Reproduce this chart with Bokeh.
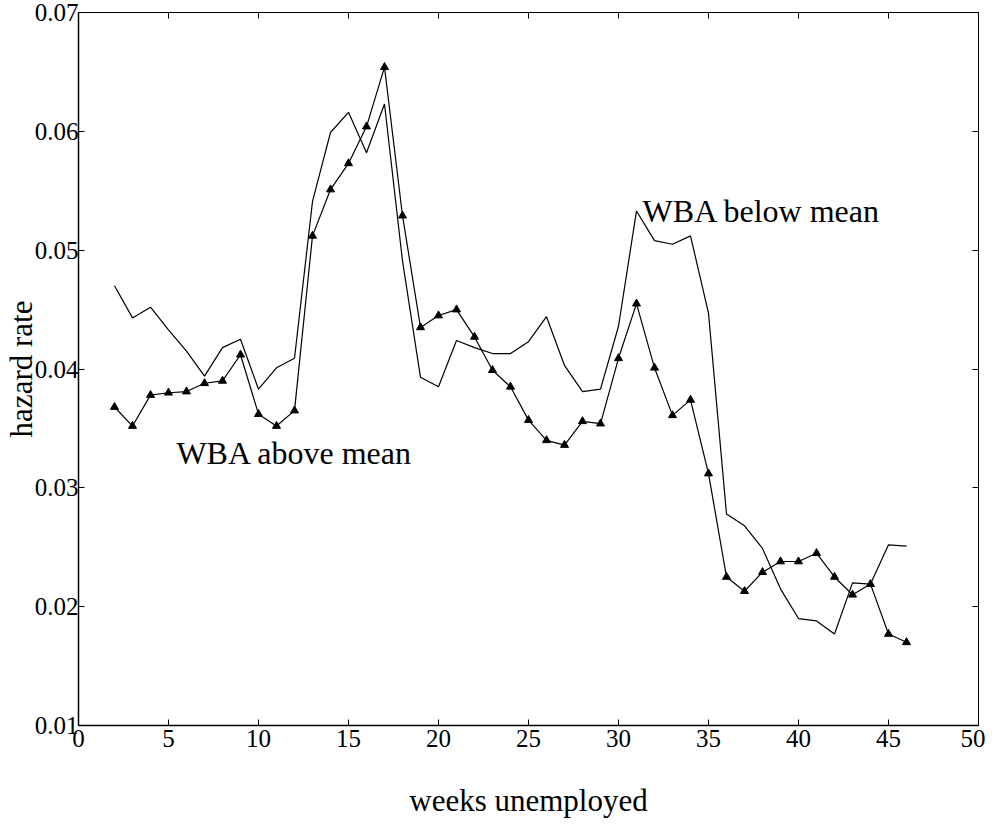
from bokeh.plotting import figure
from bokeh.models import LinearAxis, FixedTicker, NumeralTickFormatter, Label, Range1d
from bokeh.embed import file_html
from bokeh.resources import INLINE

weeks = list(range(2, 47))
above_mean = [0.0368, 0.0352, 0.0378, 0.0380, 0.0381, 0.0388, 0.0390, 0.0412, 0.0362,
              0.0352, 0.0365, 0.0512, 0.0551, 0.0573, 0.0604, 0.0654, 0.0529, 0.0435,
              0.0445, 0.0450, 0.0427, 0.0399, 0.0385, 0.0357, 0.0340, 0.0336, 0.0356,
              0.0354, 0.0409, 0.0455, 0.0401, 0.0361, 0.0374, 0.0312, 0.0225, 0.0213,
              0.0229, 0.0238, 0.0238, 0.0245, 0.0225, 0.0210, 0.0219, 0.0177, 0.0170]
below_mean = [0.0470, 0.0443, 0.0452, 0.0433, 0.0415, 0.0394, 0.0418, 0.0425, 0.0383,
              0.0401, 0.0409, 0.0541, 0.0599, 0.0616, 0.0582, 0.0623, 0.0491, 0.0393,
              0.0385, 0.0424, 0.0418, 0.0413, 0.0413, 0.0423, 0.0444, 0.0403, 0.0381,
              0.0383, 0.0436, 0.0533, 0.0508, 0.0505, 0.0512, 0.0447, 0.0278, 0.0268,
              0.0249, 0.0215, 0.0190, 0.0188, 0.0177, 0.0220, 0.0219, 0.0252, 0.0251]
x_ticks = [0, 5, 10, 15, 20, 25, 30, 35, 40, 45, 50]
y_ticks = [0.01, 0.02, 0.03, 0.04, 0.05, 0.06, 0.07]
label_below = ("WBA below mean", 31.34, 0.0533)
label_above = ("WBA above mean", 5.44, 0.0329)

FONT = "Liberation Serif"

p = figure(width=985, height=820, output_backend="svg", toolbar_location=None,
           x_range=Range1d(0, 50), y_range=Range1d(0.01, 0.07),
           min_border_left=10, min_border_right=7, min_border_top=12, min_border_bottom=10)
p.background_fill_color = "white"
p.border_fill_color = "white"
p.outline_line_color = "black"
p.outline_line_width = 1
p.grid.visible = False

p.xaxis.ticker = FixedTicker(ticks=x_ticks)
p.yaxis.ticker = FixedTicker(ticks=y_ticks)
p.yaxis.formatter = NumeralTickFormatter(format="0.00")
for ax in (p.xaxis[0], p.yaxis[0]):
    ax.major_tick_in = 6
    ax.major_tick_out = 0
    ax.minor_tick_line_color = None
    ax.axis_line_width = 1.5
    ax.axis_line_color = "black"
    ax.major_tick_line_color = "black"
    ax.major_label_text_font = FONT
    ax.major_label_text_font_size = "25px"
    ax.major_label_text_color = "black"
    ax.axis_label_text_font = FONT
    ax.axis_label_text_font_size = "31px"
    ax.axis_label_text_font_style = "normal"
    ax.axis_label_text_color = "black"

p.xaxis.axis_label = "weeks unemployed"
p.xaxis.major_label_standoff = 4
p.xaxis.axis_label_standoff = 33
p.yaxis.axis_label = "hazard rate"
p.yaxis.major_label_standoff = 0
p.yaxis.axis_label_standoff = -7

top = LinearAxis(ticker=FixedTicker(ticks=x_ticks), major_tick_in=6, major_tick_out=0,
                 minor_tick_line_color=None, major_label_text_font_size="0px",
                 major_label_text_color=None,
                 major_label_standoff=0, axis_line_color="black")
right = LinearAxis(ticker=FixedTicker(ticks=y_ticks), major_tick_in=6, major_tick_out=0,
                   minor_tick_line_color=None, major_label_text_font_size="0px",
                   major_label_text_color=None,
                   major_label_standoff=0, axis_line_color="black")
p.add_layout(top, "above")
p.add_layout(right, "right")

p.line(weeks, below_mean, line_color="black", line_width=1.2)
p.line(weeks, above_mean, line_color="black", line_width=1.2)
p.scatter(weeks, above_mean, marker="triangle", size=8, fill_color="black", line_color="black")

for txt, lx, ly in (label_below, label_above):
    p.add_layout(Label(x=lx, y=ly, text=txt, text_font=FONT, text_font_size="32px",
                       text_color="black", text_baseline="alphabetic"))

open("out.html", "w").write(file_html(p, INLINE))
